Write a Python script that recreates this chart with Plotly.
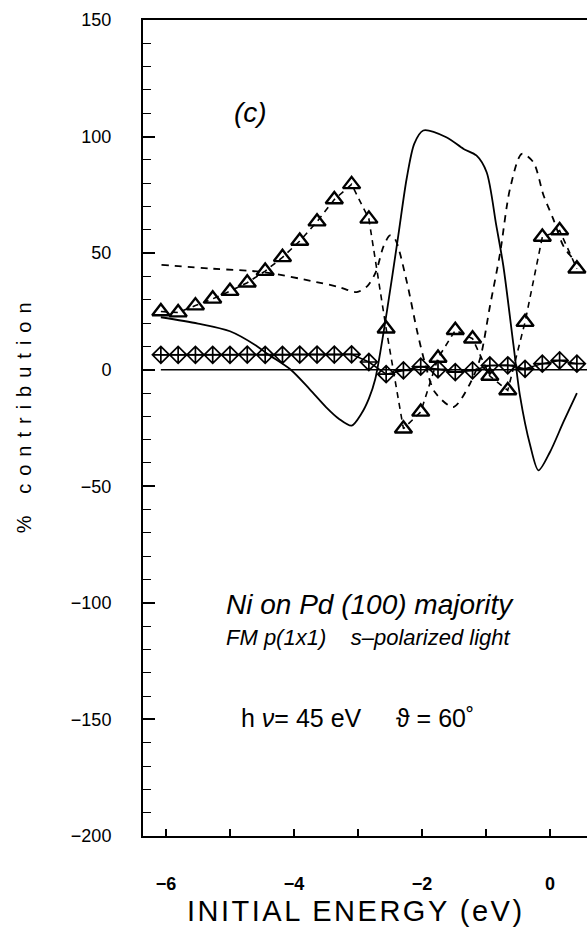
import plotly.graph_objects as go

# ---------------- data ----------------
# marker energies (eV)
marker_E = [-6.08, -5.81, -5.54, -5.27, -5.00, -4.73, -4.45, -4.18, -3.91, -3.64,
            -3.37, -3.10, -2.83, -2.56, -2.29, -2.02, -1.75, -1.48, -1.21, -0.94,
            -0.66, -0.39, -0.12, 0.15, 0.42]
triangle_vals = [25.0, 24.5, 27.5, 30.4, 33.7, 37.3, 42.3, 48.2, 55.2, 63.5,
                 73.0, 79.5, 64.7, 17.6, -25.3, -18.1, 5.0, 16.9, 13.3, -2.7,
                 -8.9, 20.4, 56.9, 59.7, 43.3]
diamond_vals = [6.4, 6.4, 6.4, 6.4, 6.4, 6.5, 6.4, 6.4, 6.5, 6.5,
                6.5, 6.6, 3.3, -1.9, -0.3, 1.3, 0.2, -1.0, -0.3, 1.8,
                1.9, 0.4, 2.6, 4.0, 2.6]

# solid curve
solid_E = [-6.08, -5.5, -5.0, -4.6, -4.4, -4.05, -3.75, -3.5, -3.3, -3.1,
           -2.95, -2.83, -2.73, -2.55, -2.37, -2.24, -2.12, -1.98, -1.62, -1.35,
           -1.15, -0.99, -0.84, -0.73, -0.57, -0.47, -0.31, -0.18, 0.0, 0.21, 0.42]
solid_V = [22.5, 19.8, 16.5, 10.5, 6.5, 0.0, -8.5, -16.0, -21.0, -24.0,
           -19.0, -12.4, -4.0, 24.7, 57.6, 81.9, 97.0, 102.6, 99.7, 94.7,
           91.9, 84.7, 62.0, 44.7, 10.4, -11.0, -32.4, -43.2, -35.3, -22.4, -10.0]

# dashed curve
dashed_E = [-6.07, -5.26, -4.48, -3.65, -3.3, -3.02, -2.85, -2.72, -2.6, -2.5,
            -2.42, -2.24, -2.08, -1.95, -1.8, -1.51, -1.25, -1.09, -0.94, -0.78,
            -0.625, -0.44, -0.26, -0.1, 0.05, 0.21, 0.36, 0.47]
dashed_V = [45.0, 43.3, 41.9, 37.6, 35.5, 33.3, 36.0, 42.0, 53.0, 57.6,
            56.0, 38.0, 17.0, 2.5, -9.6, -16.0, -6.0, 5.0, 27.0, 50.0,
            77.6, 92.6, 89.0, 74.7, 64.7, 53.0, 47.6, 44.7]

zero_E = [-6.08, 0.6]
zero_V = [0, 0]

x_tickvals = [-6, -5, -4, -3, -2, -1, 0]
x_ticktext = ["−6", "", "−4", "", "−2", "", "0"]
y_tickvals = [150, 100, 50, 0, -50, -100, -150, -200]
y_ticktext = ["150", "100", "50", "0", "−50", "−100", "−150", "−200"]

# ---------------- figure ----------------
fig = go.Figure()
fig.add_trace(go.Scatter(x=zero_E, y=zero_V, mode="lines",
                         line=dict(color="black", width=1.5), showlegend=False))
fig.add_trace(go.Scatter(x=solid_E, y=solid_V, mode="lines",
                         line=dict(color="black", width=1.8, shape="spline", smoothing=0.8),
                         showlegend=False))
fig.add_trace(go.Scatter(x=dashed_E, y=dashed_V, mode="lines",
                         line=dict(color="black", width=1.8, dash="7px,6px",
                                   shape="spline", smoothing=0.8),
                         showlegend=False))
fig.add_trace(go.Scatter(x=marker_E, y=diamond_vals, mode="lines+markers",
                         line=dict(color="black", width=1.5),
                         marker=dict(symbol="diamond-cross-open", size=13, color="black",
                                     line=dict(color="black", width=1.7)),
                         showlegend=False))
fig.add_trace(go.Scatter(x=marker_E, y=triangle_vals, mode="lines+markers",
                         line=dict(color="black", width=1.6, dash="6px,5px"),
                         marker=dict(symbol="triangle-up-open", size=15, color="black",
                                     line=dict(color="black", width=2.4)),
                         showlegend=False))

tickfont_y = dict(family="Liberation Sans, Arial, sans-serif", size=18, color="black")
tickfont_x = dict(family="Liberation Sans, Arial, sans-serif", size=18, color="black",
                  weight="bold")

fig.update_layout(
    width=587, height=928,
    margin=dict(l=143, r=0, t=20, b=92),
    plot_bgcolor="white", paper_bgcolor="white",
    xaxis=dict(range=[-6.359, 0.578], showgrid=False, zeroline=False,
               showline=True, linecolor="black", linewidth=2, mirror=True,
               ticks="inside", ticklen=7, tickwidth=1.5, tickcolor="black",
               tickvals=x_tickvals, ticktext=x_ticktext, tickfont=tickfont_x,
               ticklabelstandoff=30),
    yaxis=dict(range=[-200, 150], showgrid=False, zeroline=False,
               showline=True, linecolor="black", linewidth=2, mirror=False,
               ticks="inside", ticklen=12, tickwidth=1.5, tickcolor="black",
               tickvals=y_tickvals, ticktext=y_ticktext, tickfont=tickfont_y,
               ticklabelstandoff=26,
               minor=dict(dtick=10, ticks="inside", ticklen=8, tickwidth=1.3,
                          tickcolor="black", showgrid=False)),
)

txt = dict(family="Liberation Sans, Arial, sans-serif", color="black")
ann = dict(xref="paper", yref="paper", showarrow=False, xanchor="center", yanchor="middle")
fig.add_annotation(x=0.241, y=0.887, text="<i>(c)</i>", font=dict(txt, size=28), **ann)
fig.add_annotation(x=0.511, y=0.284, text="<i>Ni on Pd (100) majority</i>",
                   font=dict(txt, size=28), **ann)
fig.add_annotation(x=0.507, y=0.243, text="<i>FM p(1x1)    s–polarized light</i>",
                   font=dict(txt, size=22), **ann)
fig.add_annotation(x=0.483, y=0.145, text="h <i>ν</i>= 45 eV     ϑ = 60˚",
                   font=dict(txt, size=25), **ann)

# axis titles
fig.add_annotation(x=0.48, y=-0.0919,
                   text='<span style="letter-spacing:2.5px">INITIAL ENERGY (eV)</span>',
                   font=dict(txt, size=29), **ann)
fig.add_annotation(x=-0.268, y=0.517, textangle=-90,
                   text='<span style="letter-spacing:8px">% contribution</span>',
                   font=dict(txt, size=20), **ann)

fig.write_html("out.html")
